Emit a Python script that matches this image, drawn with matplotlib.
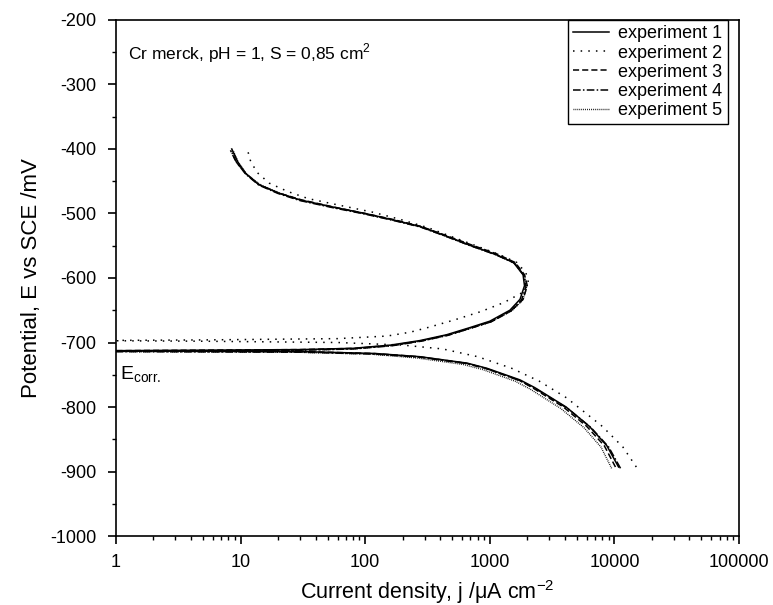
import matplotlib
matplotlib.use("Agg")
import matplotlib.pyplot as plt
from matplotlib.ticker import FixedLocator, FuncFormatter, LogLocator, MultipleLocator

plt.rcParams['font.family'] = ['Liberation Sans', 'DejaVu Sans']
plt.rcParams['mathtext.fontset'] = 'custom'
plt.rcParams['mathtext.rm'] = 'Liberation Sans'
plt.rcParams['axes.unicode_minus'] = False

# each sweep: cathodic end -> Ecorr -> anodic nose -> back to -400 mV
j1 = [10800, 8700, 6300, 4100, 2300, 1750, 950, 660, 275, 120, 30, 0.5,
      30, 80, 160, 275, 450, 690, 1000, 1450, 1750, 1900, 1850, 1550, 1100,
      690, 420, 275, 160, 100, 55, 30, 20, 14, 11, 9.5, 8.5]
E1 = [-893, -860, -830, -800, -770, -758, -740, -732, -722, -717, -714, -713,
      -711, -709, -704, -697, -688, -677, -667, -650, -633, -612, -595, -576, -563,
      -549, -533, -520, -509, -500, -490, -479, -468, -455, -438, -420, -400]

j2 = [15000, 11700, 8000, 4150, 2500, 1500, 800, 420, 200, 60, 5, 0.5,
      5, 60, 150, 230, 330, 520, 850, 1300, 1850, 2050, 1950, 1650, 1200,
      800, 480, 320, 190, 115, 65, 35, 24, 17, 13.5, 12, 11.5]
E2 = [-893, -862, -830, -786, -760, -740, -722, -710, -704, -700, -698, -697,
      -696, -694, -690, -684, -676, -665, -652, -638, -622, -608, -592, -576, -564,
      -551, -535, -522, -509, -498, -488, -477, -466, -453, -436, -418, -405]

j3 = [10200, 8300, 6000, 3900, 2200, 1700, 920, 640, 270, 115, 30, 0.5,
      30, 85, 170, 290, 470, 720, 1050, 1500, 1850, 2000, 1900, 1600, 1150,
      720, 430, 280, 165, 100, 56, 31, 20, 14, 11, 9.2, 8.3]
E3 = [-893, -860, -830, -800, -770, -758, -740, -732, -722, -717, -714, -713,
      -711, -709, -704, -697, -688, -677, -667, -650, -633, -612, -595, -576, -563,
      -549, -533, -520, -509, -500, -490, -479, -468, -455, -438, -420, -402]

j4 = [11200, 9000, 6500, 4200, 2350, 1780, 960, 670, 280, 120, 30, 0.5,
      30, 80, 165, 280, 460, 700, 1020, 1480, 1800, 1950, 1880, 1580, 1120,
      700, 425, 278, 162, 100, 55, 30, 20, 14, 11, 9.3, 8.4]
E4 = [-895, -862, -832, -802, -772, -760, -741, -733, -723, -718, -715, -714,
      -712, -710, -705, -698, -689, -678, -668, -651, -634, -613, -596, -577, -564,
      -550, -534, -521, -510, -501, -491, -480, -469, -456, -439, -421, -403]

j5 = [9500, 7800, 5700, 3700, 2100, 1600, 880, 610, 260, 110, 28, 0.5,
      28, 80, 160, 275, 450, 700, 1020, 1500, 1850, 1980, 1900, 1580, 1120,
      700, 425, 280, 165, 102, 57, 31, 21, 14.5, 11.2, 9.6, 8.8]
E5 = [-895, -862, -832, -802, -772, -760, -742, -734, -724, -718, -715, -714,
      -712, -710, -705, -698, -689, -678, -668, -651, -634, -613, -596, -577, -564,
      -550, -534, -521, -510, -501, -491, -480, -469, -456, -439, -421, -404]

labels = ['experiment 1', 'experiment 2', 'experiment 3', 'experiment 4', 'experiment 5']
x_ticks = [1, 10, 100, 1000, 10000, 100000]

fig = plt.figure(figsize=(7.73, 6.05), dpi=100)
ax = fig.add_axes([0.150, 0.114, 0.806, 0.853])

ax.plot(j1, E1, color='black', lw=1.1, linestyle='-', label=labels[0])
ax.plot(j2, E2, color='black', lw=1.1, linestyle=(0, (1, 4)), label=labels[1])
ax.plot(j3, E3, color='black', lw=1.1, linestyle=(0, (4, 2)), label=labels[2])
ax.plot(j4, E4, color='black', lw=1.1, linestyle=(0, (5, 1.5, 1, 1.5)), label=labels[3])
ax.plot(j5, E5, color='black', lw=1.0, linestyle=(0, (0.6, 0.8)), label=labels[4])

ax.set_xscale('log')
ax.set_xlim(1, 100000)
ax.set_ylim(-1000, -200)
ax.xaxis.set_major_locator(FixedLocator(x_ticks))
ax.xaxis.set_major_formatter(FuncFormatter(lambda v, p: '%d' % v))
ax.xaxis.set_minor_locator(LogLocator(base=10, subs=range(2, 10)))
ax.yaxis.set_major_locator(MultipleLocator(100))
ax.yaxis.set_minor_locator(MultipleLocator(50))
ax.tick_params(which='major', direction='out', length=6, width=1.2, labelsize=13, pad=7)
ax.tick_params(which='minor', direction='out', length=3, width=1.0)
ax.tick_params(axis='y', which='major', pad=8)
for s in ax.spines.values():
    s.set_linewidth(1.2)

ax.set_xlabel(r'Current density, j /$\mathregular{\mu}$A cm$^{\mathregular{-2}}$', fontsize=15.5, labelpad=5)
ax.set_ylabel('Potential, E vs SCE /mV', fontsize=16, labelpad=6)

ax.text(1.25, -252, r'Cr merck, pH = 1, S = 0,85 cm$^{\mathregular{2}}$', fontsize=12.5, va='center')
ax.text(1.08, -735, r'E$_{\mathregular{corr.}}$', fontsize=14, va='top')

leg = ax.legend(loc='upper right', bbox_to_anchor=(0.982, 1.0), borderaxespad=0,
                fontsize=13, handlelength=2.0, handletextpad=0.5, labelspacing=0.12,
                fancybox=False, edgecolor='black', framealpha=1, borderpad=0.3)
leg.get_frame().set_linewidth(1.0)

fig.savefig('out.png', dpi=100)
